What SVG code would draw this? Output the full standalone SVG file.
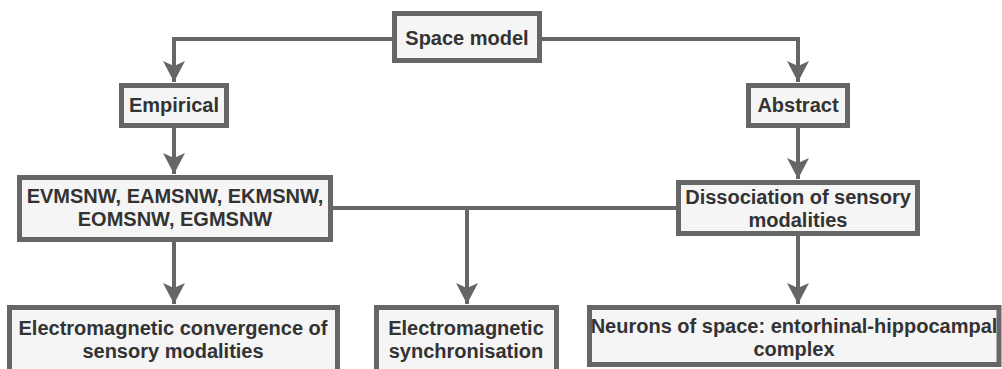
<svg xmlns="http://www.w3.org/2000/svg" width="1002" height="369" viewBox="0 0 1002 369">
<style>
.box{fill:#f5f5f5;stroke:#666666;stroke-width:5}
.lbl{font-family:"Liberation Sans",Arial,sans-serif;font-weight:bold;font-size:20px;fill:#333333;text-anchor:middle}
.edge{fill:none;stroke:#666666;stroke-width:4}
</style>
<defs>
<marker id="arr" markerUnits="userSpaceOnUse" markerWidth="26" markerHeight="26" viewBox="-22 -13 26 26" refX="0" refY="0" orient="auto">
<path d="M0,0 L-21,-11 L-16,0 L-21,11 Z" fill="#666666"/>
</marker>
</defs>
<rect width="1002" height="369" fill="#ffffff"/>
<g id="connectors">
<path class="edge" d="M392,39 H174 V82" marker-end="url(#arr)"/>
<path class="edge" d="M542,39 H798 V82" marker-end="url(#arr)"/>
<path class="edge" d="M174,128 V174" marker-end="url(#arr)"/>
<path class="edge" d="M798,128 V179" marker-end="url(#arr)"/>
<path class="edge" d="M174,242 V304" marker-end="url(#arr)"/>
<path class="edge" d="M798,236 V304" marker-end="url(#arr)"/>
<path class="edge" d="M333,208 H676"/>
<path class="edge" d="M467,208 V304" marker-end="url(#arr)"/>
</g>
<g id="space-model">
<rect class="box" x="394.5" y="13.5" width="145" height="47"/>
<text class="lbl" x="467" y="45">Space model</text>
</g>
<g id="empirical">
<rect class="box" x="121.5" y="85.5" width="105" height="40"/>
<text class="lbl" x="174" y="112">Empirical</text>
</g>
<g id="abstract">
<rect class="box" x="748.5" y="85.5" width="99" height="40"/>
<text class="lbl" x="798" y="112">Abstract</text>
</g>
<g id="evmsnw">
<rect class="box" x="19.5" y="177.5" width="311" height="62"/>
<text class="lbl" x="175" y="203">EVMSNW, EAMSNW, EKMSNW,</text>
<text class="lbl" x="175" y="226">EOMSNW, EGMSNW</text>
</g>
<g id="dissociation">
<rect class="box" x="678.5" y="182.5" width="239" height="51"/>
<text class="lbl" x="798" y="204">Dissociation of sensory</text>
<text class="lbl" x="798" y="227">modalities</text>
</g>
<g id="convergence">
<rect class="box" x="9.5" y="307.5" width="328" height="80"/>
<text class="lbl" x="173" y="335">Electromagnetic convergence of</text>
<text class="lbl" x="173" y="358">sensory modalities</text>
</g>
<g id="synchronisation">
<rect class="box" x="376.5" y="307.5" width="180" height="80"/>
<text class="lbl" x="466" y="335">Electromagnetic</text>
<text class="lbl" x="466" y="358">synchronisation</text>
</g>
<g id="neurons">
<rect class="box" x="589.5" y="307.5" width="409.5" height="57"/>
<text class="lbl" x="794" y="333">Neurons of space: entorhinal-hippocampal</text>
<text class="lbl" x="794" y="356">complex</text>
</g>
</svg>
